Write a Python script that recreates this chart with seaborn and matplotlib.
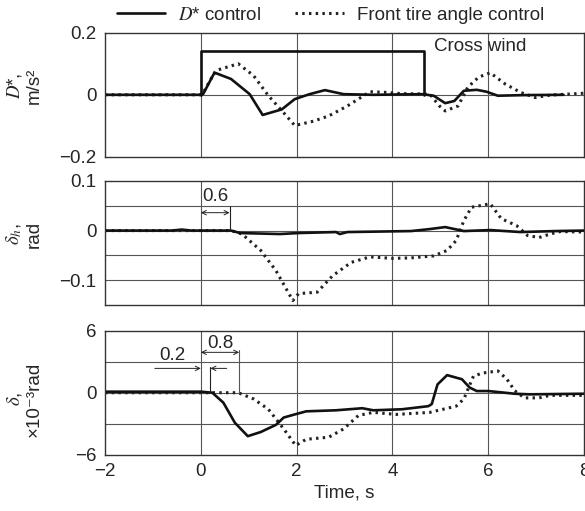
import numpy as np
import pandas as pd
import matplotlib
matplotlib.use("Agg")
import matplotlib.pyplot as plt
import seaborn as sns
from matplotlib.lines import Line2D

# time axis, seconds
t_min, t_max = -2, 8

# cross wind step (panel 1)
wind_t = [0, 0, 4.65, 4.65]
wind_v = [0, 0.14, 0.14, 0]

# D* (m/s^2)
dstar_ctrl_t = [-2, -1, 0, 0.05, 0.27, 0.31, 0.63, 1.02, 1.29, 1.69, 1.96, 2.27, 2.59, 2.98, 3.6,
                4.63, 4.86, 5.1, 5.29, 5.49, 5.76, 5.96, 6.2, 6.75, 7.57]
dstar_ctrl_v = [0, 0, 0, 0.003, 0.067, 0.07, 0.051, 0.002, -0.065, -0.047, -0.014, 0.002, 0.015, 0.002, 0,
                0.002, -0.003, -0.027, -0.02, 0.013, 0.016, 0.01, -0.003, -0.001, 0]
dstar_tire_t = [-2, 0, 0.04, 0.31, 0.78, 1.1, 1.41, 1.73, 1.96, 2.35, 2.67, 3.06, 3.53, 3.84, 4.16,
                4.78, 4.98, 5.1, 5.37, 5.57, 5.8, 6.04, 6.35, 6.67, 6.98, 7.29, 8]
dstar_tire_v = [0, 0, 0.004, 0.078, 0.1, 0.062, -0.003, -0.058, -0.099, -0.085, -0.068, -0.036, 0.01, 0.008, 0.004,
                0.002, -0.036, -0.052, -0.036, 0.024, 0.057, 0.071, 0.035, 0.008, -0.009, -0.001, 0.005]

# delta_h (rad)
dh_ctrl_t = [-2, -0.6, -0.4, -0.2, 0.63, 0.82, 1.65, 2.04, 2.82, 2.9, 3.06, 4.39, 4.78, 5.1, 5.49,
             6.04, 6.67, 7.4, 8]
dh_ctrl_v = [0, 0, 0.002, 0, 0, -0.005, -0.007, -0.005, -0.003, -0.007, -0.003, -0.001, 0.003, 0.007, -0.001,
             0.001, -0.003, -0.001, 0]
dh_tire_t = [-2, 0.63, 0.86, 1.25, 1.57, 1.92, 2.04, 2.43, 2.75, 3.14, 3.53, 4.0, 4.39, 4.86, 5.14,
             5.33, 5.49, 5.65, 6.04, 6.27, 6.59, 6.82, 7.06, 7.29, 7.5, 8]
dh_tire_v = [0, 0, -0.007, -0.04, -0.081, -0.141, -0.127, -0.124, -0.091, -0.064, -0.053, -0.056, -0.055, -0.051, -0.04,
             -0.02, 0.02, 0.047, 0.054, 0.024, 0.01, -0.01, -0.014, -0.007, -0.002, -0.003]

# delta (x10^-3 rad)
d_ctrl_t = [-2, 0, 0.24, 0.47, 0.71, 0.98, 1.25, 1.57, 1.73, 1.96, 2.2, 2.82, 3.37, 3.6, 4.2,
            4.75, 4.82, 4.94, 5.14, 5.45, 5.61, 5.76, 6.0, 6.24, 6.55, 6.86, 8]
d_ctrl_v = [0.1, 0.1, 0, -0.96, -2.9, -4.2, -3.8, -3.1, -2.4, -2.1, -1.8, -1.7, -1.5, -1.7, -1.6,
            -1.3, -1.1, 0.8, 1.7, 1.3, 0.5, 0.16, 0.16, 0.05, -0.1, -0.16, -0.1]
d_tire_t = [-2, 0.78, 1.1, 1.41, 1.73, 1.98, 2.2, 2.67, 2.98, 3.29, 3.6, 4.08, 4.78, 5.33, 5.49,
            5.69, 5.88, 6.2, 6.39, 6.55, 6.75, 7.06, 7.29, 8]
d_tire_v = [0, 0, -0.6, -1.6, -3.5, -5.1, -4.5, -4.3, -3.5, -2.2, -1.9, -2.1, -1.9, -1.3, -0.6,
            1.6, 1.9, 2.1, 1.3, 0.2, -0.5, -0.5, -0.26, -0.26]

# lag annotations
lag_h = 0.6
lag_ctrl = 0.2
lag_tire = 0.8

FS = 13.5

sns.set_theme(style="white")
plt.rcParams["font.family"] = ["Liberation Sans", "DejaVu Sans"]
plt.rcParams["mathtext.fontset"] = "stix"
plt.rcParams["font.size"] = FS

fig = plt.figure(figsize=(5.85, 5.11), dpi=100)
left, width, height = 0.1795, 0.819, 0.243
ax1 = fig.add_axes([left, 0.693, width, height])
ax2 = fig.add_axes([left, 0.403, width, height])
ax3 = fig.add_axes([left, 0.110, width, height])

solid_kw = dict(color="#111111", lw=1.9, estimator=None, sort=False)
dot_kw = dict(color="#222222", lw=2.2, linestyle=(0, (0.8, 1.4)), estimator=None, sort=False)

panels = [
    (ax1, dstar_ctrl_t, dstar_ctrl_v, dstar_tire_t, dstar_tire_v, (-0.2, 0.2), [0.2, 0, -0.2], [0],
     "$D$*,\nm/s²", 0.57),
    (ax2, dh_ctrl_t, dh_ctrl_v, dh_tire_t, dh_tire_v, (-0.15, 0.1), [0.1, 0, -0.1], [0.05, 0, -0.05, -0.1],
     "$\\delta_h$,\nrad", 0.57),
    (ax3, d_ctrl_t, d_ctrl_v, d_tire_t, d_tire_v, (-6, 6), [6, 0, -6], [3, 0, -3],
     "$\\delta$,\n×10⁻³rad", 0.45),
]

for ax, ct, cv, tt, tv, ylim, yticks, hgrid, ylab, ly in panels:
    for x in [0, 2, 4, 6]:
        ax.axvline(x, color="#555555", lw=0.8, zorder=0)
    for y in hgrid:
        ax.axhline(y, color="#555555", lw=0.8, zorder=0)
    sns.lineplot(x=tt, y=tv, ax=ax, **dot_kw)
    sns.lineplot(x=ct, y=cv, ax=ax, **solid_kw)
    ax.set_xlim(t_min, t_max)
    ax.set_ylim(*ylim)
    ax.set_yticks(yticks)
    ax.set_yticklabels([f"{v:g}".replace("-", "\u2212") for v in yticks])
    ax.tick_params(axis="both", length=0, pad=6, labelsize=FS)
    ax.set_ylabel(ylab, fontsize=FS, linespacing=1.2)
    ax.yaxis.set_label_coords(-0.129, ly)
    for s in ax.spines.values():
        s.set_color("#333333")
        s.set_linewidth(1.0)
    ax.set_xlabel("")

ax1.set_xticks([0, 2, 4, 6])
ax1.set_xticklabels([])
ax2.set_xticks([0, 2, 4, 6])
ax2.set_xticklabels([])
ax3.set_xticks([-2, 0, 2, 4, 6, 8])
ax3.set_xticklabels([f"{v:g}".replace("-", "\u2212") for v in [-2, 0, 2, 4, 6, 8]])
ax3.set_xlabel("Time, s", fontsize=FS, labelpad=3)

# cross wind step
sns.lineplot(x=wind_t, y=wind_v, ax=ax1, **solid_kw)
ax1.text(5.83, 0.156, "Cross wind", ha="center", va="center", fontsize=FS)

# lag annotations
arrow = dict(arrowstyle="<->", lw=0.7, color="#222222", shrinkA=0, shrinkB=0, mutation_scale=8)
one_arrow = dict(arrowstyle="->", lw=0.7, color="#222222", shrinkA=0, shrinkB=0, mutation_scale=8)

ax2.plot([lag_h, lag_h], [0, 0.05], color="#222222", lw=0.8)
ax2.annotate("", xy=(0, 0.036), xytext=(lag_h, 0.036), arrowprops=arrow)
ax2.text(lag_h / 2, 0.068, "0.6", ha="center", va="center", fontsize=FS)

ax3.plot([lag_ctrl, lag_ctrl], [0, 2.5], color="#222222", lw=0.8)
ax3.plot([lag_tire, lag_tire], [0, 4.1], color="#555555", lw=0.8)
ax3.annotate("", xy=(0, 2.35), xytext=(-0.96, 2.35), arrowprops=one_arrow)
ax3.annotate("", xy=(lag_ctrl, 2.35), xytext=(0.54, 2.35), arrowprops=one_arrow)
ax3.annotate("", xy=(0, 3.9), xytext=(lag_tire, 3.9), arrowprops=arrow)
ax3.text(-0.6, 3.6, "0.2", ha="center", va="center", fontsize=FS)
ax3.text(lag_tire / 2, 4.8, "0.8", ha="center", va="center", fontsize=FS)

# legend
handles = [Line2D([], [], color="#111111", lw=1.9),
           Line2D([], [], color="#222222", lw=2.2, linestyle=(0, (0.8, 1.4)))]
fig.legend(handles, ["$D$* control", "Front tire angle control"], loc="upper center",
           bbox_to_anchor=(0.565, 1.02), ncol=2, frameon=False, fontsize=FS,
           handlelength=2.6, handletextpad=0.7, columnspacing=1.8)

fig.savefig("out.png", dpi=100)
